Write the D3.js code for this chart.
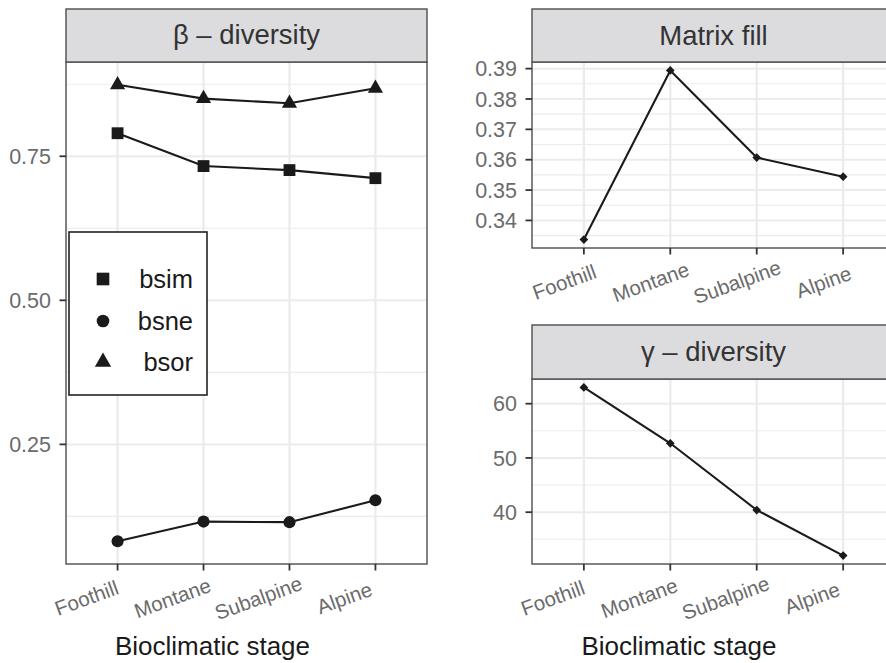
<!DOCTYPE html>
<html>
<head>
<meta charset="utf-8">
<script src="https://cdn.jsdelivr.net/npm/d3@7"></script>
<style>
  html, body { margin: 0; padding: 0; background: #ffffff; }
  svg { display: block; }
  text { font-family: "Liberation Sans", Arial, Helvetica, sans-serif; }
</style>
</head>
<body>
<svg id="chart" width="886" height="663"></svg>
<script>
// ---- data ----
const categories = ["Foothill", "Montane", "Subalpine", "Alpine"];
const bsim = [0.790, 0.733, 0.726, 0.712];
const bsne = [0.082, 0.116, 0.115, 0.153];
const bsor = [0.874, 0.850, 0.842, 0.868];
const matrixFill = [0.3337, 0.3894, 0.3607, 0.3544];
const gammaDiversity = [63.0, 52.7, 40.4, 32.0];

const betaTicks = [0.25, 0.50, 0.75];
const betaTickLabels = ["0.25", "0.50", "0.75"];
const fillTicks = [0.34, 0.35, 0.36, 0.37, 0.38, 0.39];
const fillTickLabels = ["0.34", "0.35", "0.36", "0.37", "0.38", "0.39"];
const gammaTicks = [40, 50, 60];
const gammaTickLabels = ["40", "50", "60"];
const legendLabels = ["bsim", "bsne", "bsor"];

const svg = d3.select("#chart");

function expandDomain(vals) {
  const [lo, hi] = d3.extent(vals);
  const r = hi - lo;
  return [lo - 0.05 * r, hi + 0.05 * r];
}
function midpoints(t) {
  const step = t[1] - t[0];
  const out = [];
  for (let i = -1; i < t.length; i++) out.push(t[0] + (i + 0.5) * step);
  return out;
}

function panel(opts) {
  const { left, right, stripTop, top, bottom, title, titleBaseline, series,
          ticks, tickLabels, labelOffset } = opts;
  const g = svg.append("g");
  const x = d3.scalePoint().domain(categories).range([left, right]).padding(0.6);
  const allVals = series.flatMap(s => s.values);
  const y = d3.scaleLinear().domain(expandDomain(allVals)).range([bottom, top]);

  g.append("rect").attr("x", left).attr("y", top).attr("width", right - left)
    .attr("height", bottom - top).attr("fill", "#ffffff");

  const minor = midpoints(ticks).filter(v => y(v) > top && y(v) < bottom);
  g.selectAll(".minor").data(minor).join("line")
    .attr("x1", left).attr("x2", right)
    .attr("y1", d => y(d)).attr("y2", d => y(d))
    .attr("stroke", "#ebebeb").attr("stroke-width", 1.1);
  g.selectAll(".majorh").data(ticks).join("line")
    .attr("x1", left).attr("x2", right)
    .attr("y1", d => y(d)).attr("y2", d => y(d))
    .attr("stroke", "#ebebeb").attr("stroke-width", 2);
  g.selectAll(".majorv").data(categories).join("line")
    .attr("x1", d => x(d)).attr("x2", d => x(d))
    .attr("y1", top).attr("y2", bottom)
    .attr("stroke", "#ebebeb").attr("stroke-width", 2.2);

  series.forEach(s => {
    const pts = categories.map((c, i) => [x(c), y(s.values[i])]);
    g.append("path").attr("d", d3.line()(pts))
      .attr("fill", "none").attr("stroke", "#1a1a1a").attr("stroke-width", 2.1);
    g.selectAll(null).data(pts).join("path")
      .attr("transform", d => `translate(${d[0]},${d[1]})` + (s.rotate ? ` rotate(${s.rotate})` : ""))
      .attr("d", s.symbol)
      .attr("fill", "#1a1a1a");
  });

  g.append("rect").attr("x", left).attr("y", top).attr("width", right - left)
    .attr("height", bottom - top).attr("fill", "none")
    .attr("stroke", "#4d4d4d").attr("stroke-width", 1.4);

  g.append("rect").attr("x", left).attr("y", stripTop).attr("width", right - left)
    .attr("height", top - stripTop).attr("fill", "#dcdcde")
    .attr("stroke", "#4d4d4d").attr("stroke-width", 1.4);
  g.append("text").attr("x", (left + right) / 2).attr("y", titleBaseline)
    .attr("text-anchor", "middle").attr("font-size", 27.5).attr("fill", "#333333")
    .text(title);

  const yAxis = g.append("g");
  yAxis.selectAll("line").data(ticks).join("line")
    .attr("x1", left - 6.5).attr("x2", left)
    .attr("y1", d => y(d)).attr("y2", d => y(d))
    .attr("stroke", "#333333").attr("stroke-width", 1.8);
  yAxis.selectAll("text").data(ticks).join("text")
    .attr("x", left - 15).attr("y", d => y(d)).attr("dy", "0.36em")
    .attr("text-anchor", "end").attr("font-size", 21.5).attr("fill", "#6b6b6b")
    .text((d, i) => tickLabels[i]);

  const xAxis = g.append("g");
  xAxis.selectAll("line").data(categories).join("line")
    .attr("x1", d => x(d)).attr("x2", d => x(d))
    .attr("y1", bottom).attr("y2", bottom + 6.5)
    .attr("stroke", "#333333").attr("stroke-width", 1.8);
  xAxis.selectAll("text").data(categories).join("text")
    .attr("transform", d => `translate(${x(d) + labelOffset},${bottom + 34}) rotate(-20)`)
    .attr("text-anchor", "middle").attr("dy", "0.35em")
    .attr("font-size", 20.5).attr("fill", "#6b6b6b")
    .text(d => d);

  return { x, y };
}

const sq = d3.symbol().type(d3.symbolSquare).size(140)();
const ci = d3.symbol().type(d3.symbolCircle).size(115)();
const tri = d3.symbol().type(d3.symbolTriangle).size(100)();
const dia = d3.symbol().type(d3.symbolSquare).size(38)();

panel({
  left: 66, right: 427, stripTop: 9, top: 62, bottom: 564,
  title: "β – diversity", titleBaseline: 44,
  series: [
    { values: bsim, symbol: sq },
    { values: bsne, symbol: ci },
    { values: bsor, symbol: tri }
  ],
  ticks: betaTicks, tickLabels: betaTickLabels, labelOffset: -31
});

panel({
  left: 532, right: 895, stripTop: 9, top: 62, bottom: 248,
  title: "Matrix fill", titleBaseline: 45,
  series: [{ values: matrixFill, symbol: dia, rotate: 45 }],
  ticks: fillTicks, tickLabels: fillTickLabels, labelOffset: -19.5
});

panel({
  left: 532, right: 895, stripTop: 325, top: 379, bottom: 564,
  title: "γ – diversity", titleBaseline: 361,
  series: [{ values: gammaDiversity, symbol: dia, rotate: 45 }],
  ticks: gammaTicks, tickLabels: gammaTickLabels, labelOffset: -31
});

svg.append("text").attr("x", 212.5).attr("y", 655).attr("text-anchor", "middle")
  .attr("font-size", 26).attr("fill", "#1a1a1a").text("Bioclimatic stage");
svg.append("text").attr("x", 679).attr("y", 655).attr("text-anchor", "middle")
  .attr("font-size", 26).attr("fill", "#1a1a1a").text("Bioclimatic stage");

const legend = svg.append("g");
legend.append("rect").attr("x", 69).attr("y", 232).attr("width", 138).attr("height", 163)
  .attr("fill", "#ffffff").attr("stroke", "#222222").attr("stroke-width", 1.6);
const legendSymbols = [
  d3.symbol().type(d3.symbolSquare).size(160)(),
  d3.symbol().type(d3.symbolCircle).size(125)(),
  d3.symbol().type(d3.symbolTriangle).size(115)()
];
const legendY = [279, 321, 362];
legendLabels.forEach((lab, i) => {
  legend.append("path").attr("d", legendSymbols[i])
    .attr("transform", `translate(103,${legendY[i]})`).attr("fill", "#1a1a1a");
  legend.append("text").attr("x", 193).attr("y", legendY[i]).attr("dy", "0.36em")
    .attr("text-anchor", "end").attr("font-size", 25.5).attr("fill", "#1a1a1a").text(lab);
});
</script>
</body>
</html>
